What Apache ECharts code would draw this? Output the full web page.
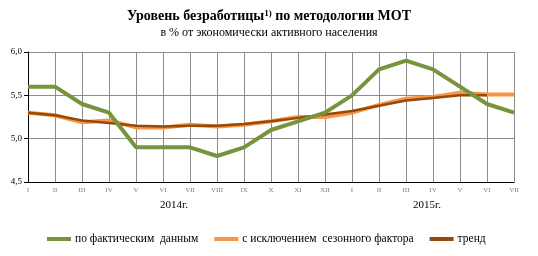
<!DOCTYPE html>
<html>
<head>
<meta charset="utf-8">
<script src="https://cdn.jsdelivr.net/npm/echarts@6/dist/echarts.min.js"></script>
<style>
  html, body { margin: 0; padding: 0; background: #fff; }
  #chart { width: 538px; height: 256px; }
</style>
</head>
<body>
<div id="chart"></div>
<script>
// месяцы 2014-2015
const months = ['I', 'II', 'III', 'IV', 'V', 'VI', 'VII', 'VIII', 'IX', 'X', 'XI', 'XII',
  'I', 'II', 'III', 'IV', 'V', 'VI', 'VII']
const actual = [5.6, 5.6, 5.4, 5.3, 4.9, 4.9, 4.9, 4.8, 4.9, 5.1, 5.2, 5.3,
  5.5, 5.8, 5.9, 5.8, 5.6, 5.4, 5.3]
const seasonal = [5.3, 5.27, 5.19, 5.21, 5.13, 5.13, 5.16, 5.14, 5.16, 5.2, 5.25, 5.25,
  5.3, 5.39, 5.46, 5.48, 5.53, 5.51, 5.51]
const trend = [5.3, 5.27, 5.21, 5.18, 5.15, 5.14, 5.15, 5.15, 5.17, 5.2, 5.24, 5.28,
  5.32, 5.38, 5.44, 5.47, 5.5, 5.5]
const yearLabels = ['2014г.', '2015г.']

const font = '"Liberation Serif", "Times New Roman", serif'
const myChart = echarts.init(document.getElementById('chart'))

myChart.setOption({
  animation: false,
  textStyle: { fontFamily: font },
  title: {
    text: '{b|Уровень безработицы}{s|1)}{b| по методологии МОТ}',
    subtext: 'в % от экономически активного населения',
    left: 'center',
    top: 4,
    itemGap: 3,
    textStyle: {
      rich: {
        b: { fontFamily: font, fontSize: 14, fontWeight: 'bold', color: '#000' },
        s: { fontFamily: font, fontSize: 9, fontWeight: 'bold', color: '#000', verticalAlign: 'top', padding: [0, 0, 6, 0] }
      }
    },
    subtextStyle: { fontFamily: font, fontSize: 12, color: '#000' }
  },
  // годы под осью
  graphic: [
    { type: 'text', left: 160, top: 200, style: { text: yearLabels[0], font: '11px ' + font, fill: '#000' } },
    { type: 'text', left: 413, top: 200, style: { text: yearLabels[1], font: '11px ' + font, fill: '#000' } }
  ],
  legend: {
    bottom: 6,
    left: 42,
    icon: 'rect',
    itemWidth: 24,
    itemHeight: 4,
    itemGap: 16,
    selectedMode: false,
    textStyle: { fontFamily: font, fontSize: 11.5, color: '#000', padding: [0, 0, 0, -1] },
    data: ['по фактическим  данным', 'с исключением  сезонного фактора', 'тренд']
  },
  grid: { left: 28, right: 24, top: 52, bottom: 74 },
  xAxis: {
    type: 'category',
    data: months,
    boundaryGap: false,
    axisLine: { lineStyle: { color: '#000', width: 1 } },
    axisTick: { show: false },
    axisLabel: { color: '#808080', fontSize: 7, margin: 5, interval: 0 },
    splitLine: { show: true, lineStyle: { color: '#8c8c8c', width: 1 } }
  },
  yAxis: {
    type: 'value',
    min: 4.5,
    max: 6.0,
    interval: 0.5,
    axisLine: { show: true, lineStyle: { color: '#000', width: 1 } },
    axisTick: { show: true, length: 4, lineStyle: { color: '#000' } },
    axisLabel: {
      color: '#000',
      fontSize: 9,
      margin: 6,
      formatter: v => v.toFixed(1).replace('.', ',')
    },
    splitLine: { lineStyle: { color: '#8c8c8c', width: 1 } }
  },
  series: [
    {
      name: 'по фактическим  данным',
      type: 'line',
      data: actual,
      z: 4,
      symbol: 'none',
      lineStyle: { color: '#77933C', width: 4 },
      itemStyle: { color: '#77933C' }
    },
    {
      name: 'с исключением  сезонного фактора',
      type: 'line',
      data: seasonal,
      z: 2,
      symbol: 'none',
      lineStyle: { color: '#F79646', width: 4 },
      itemStyle: { color: '#F79646' }
    },
    {
      name: 'тренд',
      type: 'line',
      data: trend,
      z: 3,
      symbol: 'none',
      lineStyle: { color: '#984807', width: 2.5 },
      itemStyle: { color: '#984807' }
    }
  ]
})
</script>
</body>
</html>
